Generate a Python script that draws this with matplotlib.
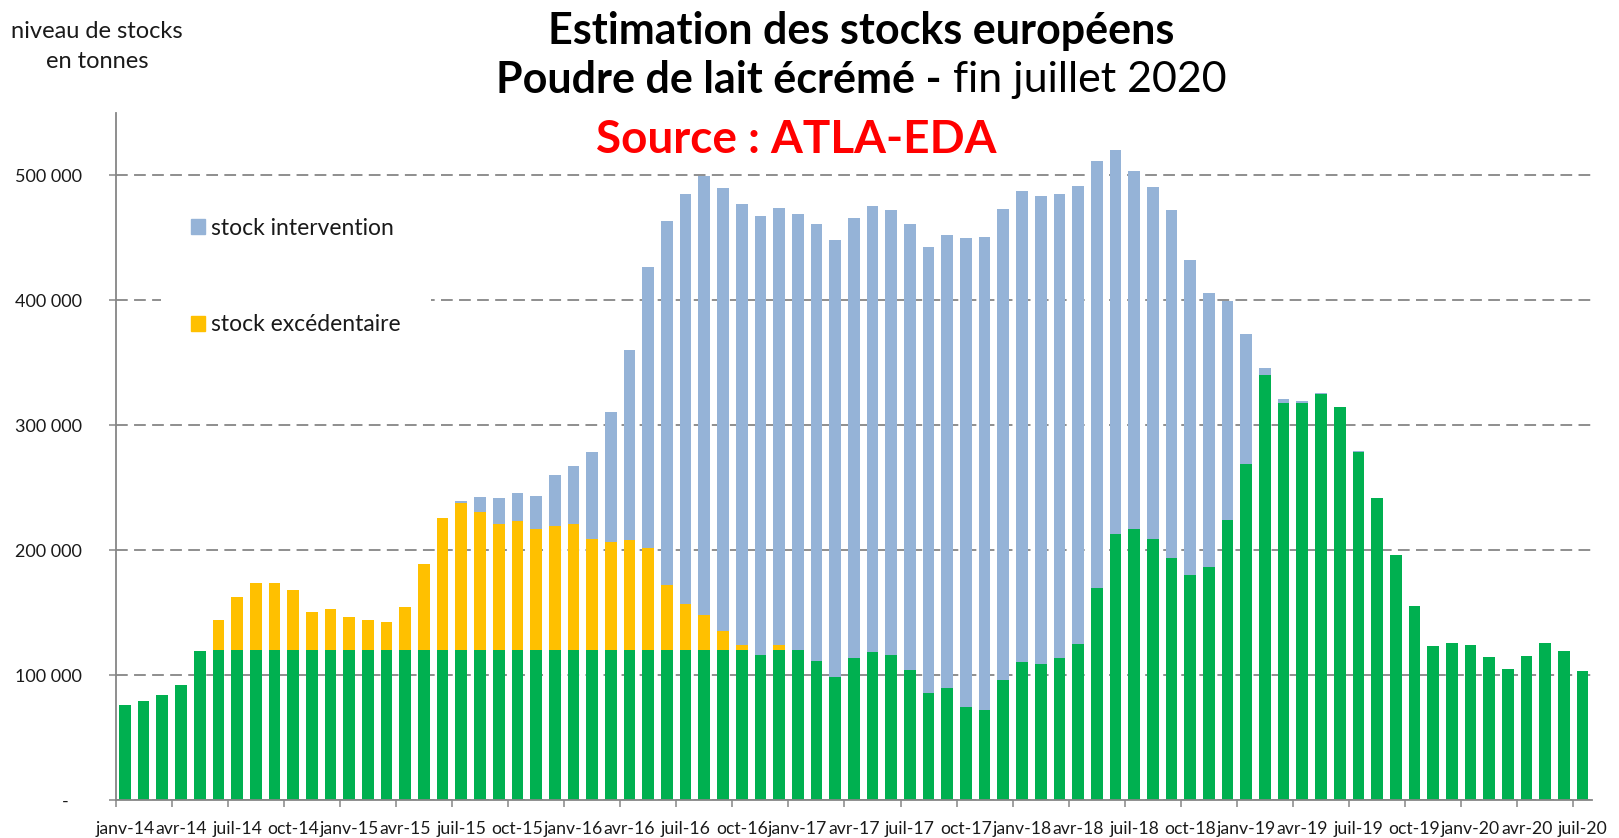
import matplotlib
matplotlib.use('Agg')
import matplotlib.pyplot as plt
import matplotlib.patches as mpatches
import numpy as np

plt.rcParams['font.family'] = ['Lato', 'DejaVu Sans']

# monthly labels janv-14 .. juil-20 (only every third one is shown on the axis)
mois = ['janv', 'févr', 'mars', 'avr', 'mai', 'juin', 'juil', 'août', 'sept', 'oct', 'nov', 'déc']
months = ['%s-%02d' % (m, y) for y in range(14, 21) for m in mois][:79]

# green base of each bar (tonnes)
stock_base = [
	76000, 79000, 84000, 92000, 119500, 120000, 120000, 120000, 120000, 120000,
	120000, 120000, 120000, 120000, 120000, 120000, 120000, 120000, 120000, 120000,
	120000, 120000, 120000, 120000, 120000, 120000, 120000, 120000, 120000, 120000,
	120000, 120000, 120000, 120000, 115700, 120000, 120000, 111500, 98800, 113400,
	118300, 116400, 104400, 85600, 89700, 74700, 71700, 95800, 110400, 108900,
	113400, 125000, 169400, 213300, 217000, 208800, 193400, 180200, 186300, 224200,
	269200, 340200, 317700, 317700, 325200, 314300, 279000, 241500, 196000, 155500,
	123200, 125800, 123900, 114200, 105100, 115300, 125800, 119000, 103300,
]

stock_excedentaire = [
	0, 0, 0, 0, 0, 23800, 42600, 53900, 53900, 48200,
	30600, 32800, 26800, 23800, 22700, 34700, 68900, 105700, 118000, 110900,
	100800, 103400, 97000, 99700, 100800, 88800, 86900, 88000, 82000, 52000,
	37000, 28300, 15600, 4300, 0, 4300, 0, 0, 0, 0,
	0, 0, 0, 0, 0, 0, 0, 0, 0, 0,
	0, 0, 0, 0, 0, 0, 0, 0, 0, 0,
	0, 0, 0, 0, 0, 0, 0, 0, 0, 0,
	0, 0, 0, 0, 0, 0, 0, 0, 0,
]

stock_intervention = [
	0, 0, 0, 0, 0, 0, 0, 0, 0, 0,
	0, 0, 0, 0, 0, 0, 0, 0, 1000, 11700,
	20700, 22200, 26300, 40500, 46200, 70200, 103700, 152100, 225000, 291400,
	328200, 351500, 354400, 353000, 351800, 350000, 349400, 350000, 349900, 352200,
	357100, 356000, 357100, 357100, 362800, 375200, 378900, 377700, 377000, 374400,
	371800, 366200, 342400, 306800, 286900, 282000, 279000, 252400, 219600, 175300,
	103700, 5300, 3000, 1900, 800, 0, 600, 0, 0, 0,
	0, 0, 0, 0, 0, 0, 0, 0, 0,
]

y_ticks = [0, 100000, 200000, 300000, 400000, 500000]
y_tick_labels = ['-   ', '100 000', '200 000', '300 000', '400 000', '500 000']

GREEN = '#00B050'
YELLOW = '#FFC000'
BLUE = '#95B3D7'
GREY = '#868686'

base = np.array(stock_base)
exc = np.array(stock_excedentaire)
interv = np.array(stock_intervention)
x = np.arange(len(months))

fig = plt.figure(figsize=(16.19, 8.38), dpi=100)
ax = fig.add_axes([115.6 / 1619, 38 / 838, (1592 - 115.6) / 1619, (800 - 113) / 838])

w = 0.625
ax.bar(x, base, width=w, color=GREEN, zorder=2)
ax.bar(x, exc, width=w, bottom=base, color=YELLOW, zorder=2)
ax.bar(x, interv, width=w, bottom=base + exc, color=BLUE, zorder=2)

ax.set_xlim(-0.5, len(months) - 0.5)
ax.set_ylim(0, 550000)

# ticks sit on the category boundaries, labels under every third bar
ax.set_xticks(np.arange(-0.5, len(months) - 1, 3))
ax.set_xticklabels([])
ax.set_xticks(x[::3], minor=True)
ax.set_xticklabels(months[::3], minor=True)
ax.tick_params(axis='x', which='major', length=5, width=1.1, color=GREY, direction='out')
ax.tick_params(axis='x', which='minor', length=0, pad=15, labelsize=12.7, labelcolor='#1a1a1a')

ax.set_yticks(y_ticks)
ax.set_yticklabels(y_tick_labels)
ax.tick_params(axis='y', length=5, width=1.1, color=GREY, pad=19, labelsize=13, labelcolor='#1a1a1a')

ax.grid(axis='y', color=GREY, linewidth=1.3, linestyle=(0, (6.5, 3.5)), zorder=0)
ax.set_axisbelow(True)

for side in ['top', 'right']:
	ax.spines[side].set_visible(False)
for side in ['left', 'bottom']:
	ax.spines[side].set_color(GREY)
	ax.spines[side].set_linewidth(1.3)

blue_patch = mpatches.Patch(color=BLUE, label='stock intervention')
yellow_patch = mpatches.Patch(color=YELLOW, label='stock excédentaire')
leg = ax.legend(handles=[blue_patch, yellow_patch], loc='upper left',
	bbox_to_anchor=(161 / 1619, 1 - 188 / 838), bbox_transform=fig.transFigure,
	fontsize=16.5, frameon=True, facecolor='white', edgecolor='none', framealpha=1,
	fancybox=False, borderpad=1.3, handlelength=0.6, handleheight=0.6,
	handletextpad=0.3, labelspacing=3.3, borderaxespad=0)
for t in leg.get_texts():
	t.set_color('#1a1a1a')

fig.text(97 / 1619, 1 - 31 / 838, 'niveau de stocks', ha='center', va='center', fontsize=17, color='#1a1a1a')
fig.text(97 / 1619, 1 - 61 / 838, 'en tonnes', ha='center', va='center', fontsize=17, color='#1a1a1a')

fig.text(861 / 1619, 1 - 31 / 838, 'Estimation des stocks européens', ha='center', va='center',
	fontsize=31, fontweight='bold', color='black')
fig.text(942 / 1619, 1 - 80 / 838, 'Poudre de lait écrémé -', ha='right', va='center',
	fontsize=31, fontweight='bold', color='black')
fig.text(953 / 1619, 1 - 80 / 838, 'fin juillet 2020', ha='left', va='center',
	fontsize=31, color='black')
fig.text(796 / 1619, 1 - 140 / 838, 'Source : ATLA-EDA', ha='center', va='center',
	fontsize=33, fontweight='bold', color='#FF0000')

plt.savefig('out.png', dpi=100)
